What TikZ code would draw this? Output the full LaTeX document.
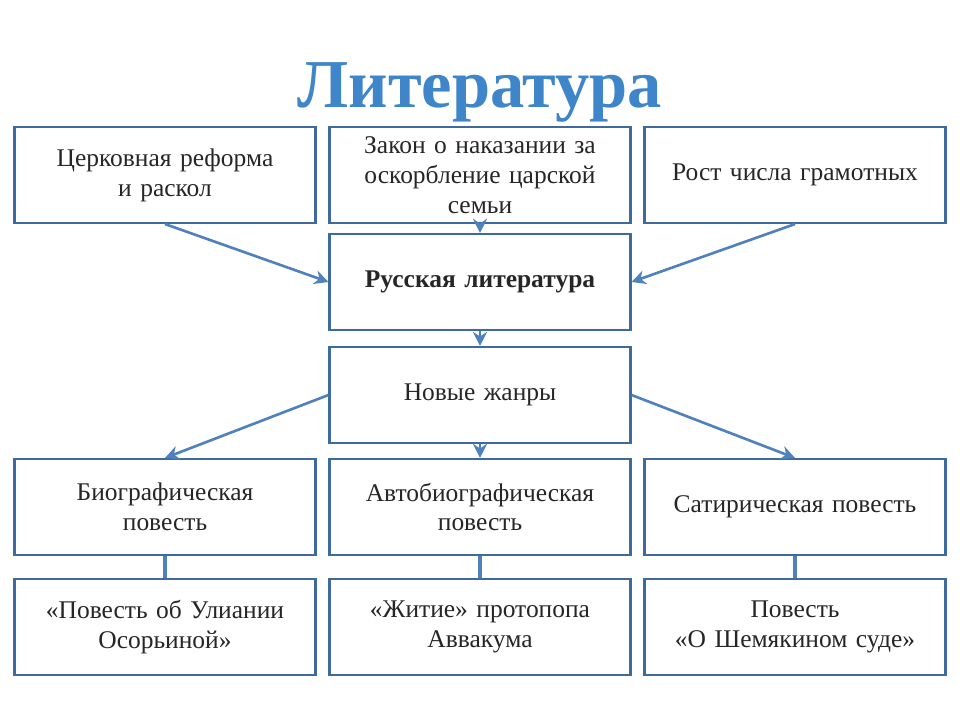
\documentclass[tikz,border=0pt]{standalone}
\usepackage{fontspec}
\setmainfont{Liberation Serif}
\usetikzlibrary{arrows.meta}
\definecolor{boxline}{HTML}{3E6A9E}
\definecolor{arrowblue}{HTML}{4F81BD}
\definecolor{titleblue}{HTML}{3F85C9}
\begin{document}
\begin{tikzpicture}[x=0.02cm,y=-0.02cm]
		\tikzset{box/.style = {shape=rectangle,draw=boxline,line width=1.2pt,fill=white,minimum width=6.02cm,minimum height=1.92cm,text width=5.7cm,inner xsep=0pt,align=center,font=\fontsize{14.5}{17}\selectfont,text=black!85}}
		\tikzset{edge/.style = {draw=arrowblue,line width=1.5pt,-{Stealth[length=8pt,width=8pt]}}}
		\tikzset{link/.style = {draw=arrowblue,line width=1.8pt}}
		\useasboundingbox (0,0) rectangle (960,720);
		% title
		\node[font=\fontsize{39}{44}\selectfont\bfseries,text=titleblue] (title) at (480,92) {Литература};
		% vertices
		\node[box] (church) at (165,175) {Церковная реформа\\и раскол};
		\node[box] (law) at (480,175) {Закон о наказании за\\оскорбление царской\\семьи};
		\node[box] (growth) at (795,175) {Рост числа грамотных};
		\node[box,font=\fontsize{14.5}{17}\selectfont\bfseries] (rus) at (480,282) {Русская литература};
		\node[box] (genres) at (480,395) {Новые жанры};
		\node[box] (bio) at (165,507) {Биографическая\\повесть};
		\node[box] (auto) at (480,507) {Автобиографическая\\повесть};
		\node[box] (satire) at (795,507) {Сатирическая повесть};
		\node[box] (uliania) at (165,627) {«Повесть об Улиании\\Осорьиной»};
		\node[box] (avvakum) at (480,627) {«Житие» протопопа\\Аввакума};
		\node[box] (shem) at (795,627) {Повесть\\«О Шемякином суде»};
		% edges
		\draw[edge] (church.south) -- (rus.west);
		\draw[edge] (growth.south) -- (rus.east);
		\draw[edge] (law) -- (rus);
		\draw[edge] (rus) -- (genres);
		\draw[edge] (genres.west) -- (bio.north);
		\draw[edge] (genres.east) -- (satire.north);
		\draw[edge] (genres) -- (auto);
		\draw[link] (bio) -- (uliania);
		\draw[link] (auto) -- (avvakum);
		\draw[link] (satire) -- (shem);
\end{tikzpicture}
\end{document}
